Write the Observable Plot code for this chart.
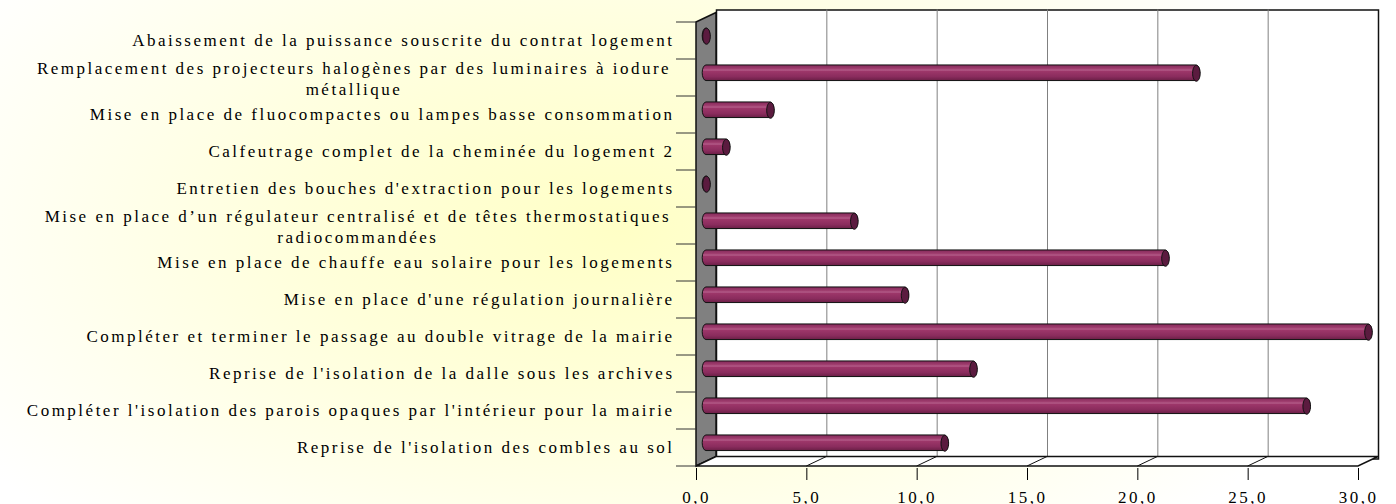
<!DOCTYPE html>
<html><head><meta charset="utf-8">
<script src="https://cdn.jsdelivr.net/npm/d3@7"></script>
<script src="https://cdn.jsdelivr.net/npm/@observablehq/plot@0.6"></script>
<style>
html,body{margin:0;padding:0;}
body{width:1396px;height:504px;overflow:hidden;
 background: radial-gradient(ellipse 760px 430px at 620px 230px, #ffffc6 0%, #ffffda 40%, #fffff0 75%, #ffffff 100%);}
#chart svg{background:transparent !important;overflow:visible;}
#chart svg text{font-family:'Liberation Serif','Times New Roman',serif !important;letter-spacing:2.5px;fill:#000;}
</style></head><body><div id="chart"></div>
<script>
// ---- data (top to bottom) ----
const categories = [
  "Abaissement de la puissance souscrite du contrat logement",
  "Remplacement des projecteurs halogènes par des luminaires à iodure métallique",
  "Mise en place de fluocompactes ou lampes basse consommation",
  "Calfeutrage complet de la cheminée du logement 2",
  "Entretien des bouches d'extraction pour les logements",
  "Mise en place d’un régulateur centralisé et de têtes thermostatiques radiocommandées",
  "Mise en place de chauffe eau solaire pour les logements",
  "Mise en place d'une régulation journalière",
  "Compléter et terminer le passage au double vitrage de la mairie",
  "Reprise de l'isolation de la dalle sous les archives",
  "Compléter l'isolation des parois opaques par l'intérieur pour la mairie",
  "Reprise de l'isolation des combles au sol"
];
const values = [0, 22.2, 2.9, 0.9, 0, 6.7, 20.8, 9.0, 30.0, 12.1, 27.2, 10.8];
const labels = [
  "Abaissement de la puissance souscrite du contrat logement",
  "Remplacement des projecteurs halogènes par des luminaires à iodure\nmétallique",
  "Mise en place de fluocompactes ou lampes basse consommation",
  "Calfeutrage complet de la cheminée du logement 2",
  "Entretien des bouches d'extraction pour les logements",
  "Mise en place d’un régulateur centralisé et de têtes thermostatiques\nradiocommandées",
  "Mise en place de chauffe eau solaire pour les logements",
  "Mise en place d'une régulation journalière",
  "Compléter et terminer le passage au double vitrage de la mairie",
  "Reprise de l'isolation de la dalle sous les archives",
  "Compléter l'isolation des parois opaques par l'intérieur pour la mairie",
  "Reprise de l'isolation des combles au sol"
];
const xTicks = [0, 5, 10, 15, 20, 25, 30];
const xTickLabels = ["0,0", "5,0", "10,0", "15,0", "20,0", "25,0", "30,0"];

// ---- style ----
const DX = 20, DY = -9.5;         // depth of the 3D box
const BX = DX / 2, BY = DY / 2;   // bars at mid depth
const LS = 2.5;                   // letter spacing
const FS = 17;
const FONT = "'Liberation Serif', 'Times New Roman', serif";

const rows = categories.map((name, i) => ({name, value: values[i], label: labels[i]}));
const single = rows.filter(d => !d.label.includes("\n"));
const multi = rows.filter(d => d.label.includes("\n"));

const cvs = document.createElement("canvas").getContext("2d");
cvs.font = `${FS}px 'Liberation Serif'`;
const measure = s => cvs.measureText(s).width + LS * s.length;

const ellipse = {
  draw(ctx) {
    const rx = 3.8, ry = 8, kx = rx * 0.5523, ky = ry * 0.5523;
    ctx.moveTo(rx, 0);
    ctx.bezierCurveTo(rx, ky, kx, ry, 0, ry);
    ctx.bezierCurveTo(-kx, ry, -rx, ky, -rx, 0);
    ctx.bezierCurveTo(-rx, -ky, -kx, -ry, 0, -ry);
    ctx.bezierCurveTo(kx, -ry, rx, -ky, rx, 0);
    ctx.closePath();
  }
};

function defs() {
  const svg = d3.create("svg:defs");
  const g = svg.append("linearGradient").attr("id", "cyl").attr("x1", 0).attr("y1", 0).attr("x2", 0).attr("y2", 1);
  [[0, "#84295a"], [0.22, "#9e3c6d"], [0.33, "#b25a87"], [0.42, "#9c3669"], [0.75, "#8a2c5d"], [1, "#6a1f46"]]
    .forEach(([o, c]) => g.append("stop").attr("offset", o).attr("stop-color", c));
  return svg.node();
}

function walls(index, scales, chans, dims) {
  const x = scales.x, y = scales.y;
  const bw = typeof y.bandwidth === "function" ? y.bandwidth() : y.bandwidth;
  const x0 = x(xTicks[0]), x1 = x(xTicks[xTicks.length - 1]);
  const top = y(categories[0]), bot = y(categories[categories.length - 1]) + bw;
  const g = d3.create("svg:g");
  g.append("path")
    .attr("d", `M${x0},${top}L${x0 + DX},${top + DY}L${x0 + DX},${bot + DY}L${x0},${bot}Z`)
    .attr("fill", "#808080").attr("stroke", "#111").attr("stroke-width", 1.5);
  g.append("path")
    .attr("d", `M${x0},${bot}L${x0 + DX},${bot + DY}L${x1 + DX},${bot + DY}L${x1},${bot}Z`)
    .attr("fill", "white").attr("stroke", "#111").attr("stroke-width", 1.5);
  for (const t of xTicks.slice(1, -1)) {
    g.append("line").attr("x1", x(t)).attr("y1", bot).attr("x2", x(t) + DX).attr("y2", bot + DY)
      .attr("stroke", "#111");
  }
  const bounds = categories.map(c => y(c)).concat([bot]);
  for (const b of bounds) {
    g.append("line").attr("x1", x0 - 20).attr("x2", x0).attr("y1", b).attr("y2", b)
      .attr("stroke", "#333");
  }
  return g.node();
}

const marks = [
  defs,
  Plot.frame({fill: "white", stroke: "#111", strokeWidth: 1.5, dx: DX, dy: DY}),
  Plot.ruleX(xTicks.slice(1, -1), {stroke: "#808080", dx: DX, dy: DY}),
  walls,
  Plot.barX(rows, {y: "name", x: "value", fill: "url(#cyl)", stroke: "#111", strokeWidth: 1,
    insetTop: 10.7, insetBottom: 10.7, insetLeft: -3.8, insetRight: -3.8, rx: 3.8, ry: 8, dx: BX, dy: BY}),
  Plot.dot(rows, {y: "name", x: "value", symbol: ellipse, fill: "#5b1b3f", stroke: "#111", strokeWidth: 1, dx: BX, dy: BY}),
  Plot.text(single, {y: "name", text: "label", frameAnchor: "left", textAnchor: "end", dx: -22,
    fontSize: FS, fontFamily: FONT, fill: "black"})
];
for (const d of multi) {
  const first = d.label.split("\n")[0] + " ";
  marks.push(Plot.text([d], {y: "name", text: "label", frameAnchor: "left", textAnchor: "middle",
    dx: -22 - measure(first) / 2, fontSize: FS, fontFamily: FONT, fill: "black", lineHeight: 1.2}));
}

const chart = Plot.plot({
  width: 1396,
  height: 504,
  marginLeft: 696,
  marginRight: 38,
  marginTop: 19,
  marginBottom: 36,
  style: `background: transparent; font-family: ${FONT}; font-size: ${FS}px; letter-spacing: ${LS}px; color: black; overflow: visible;`,
  x: {domain: [0, 30], ticks: xTicks, tickFormat: d => xTickLabels[xTicks.indexOf(d)],
    tickSize: 12, tickPadding: 10, label: null},
  y: {type: "band", domain: categories, padding: 0, axis: null},
  marks
});
document.getElementById("chart").appendChild(chart);
</script>
</body></html>
